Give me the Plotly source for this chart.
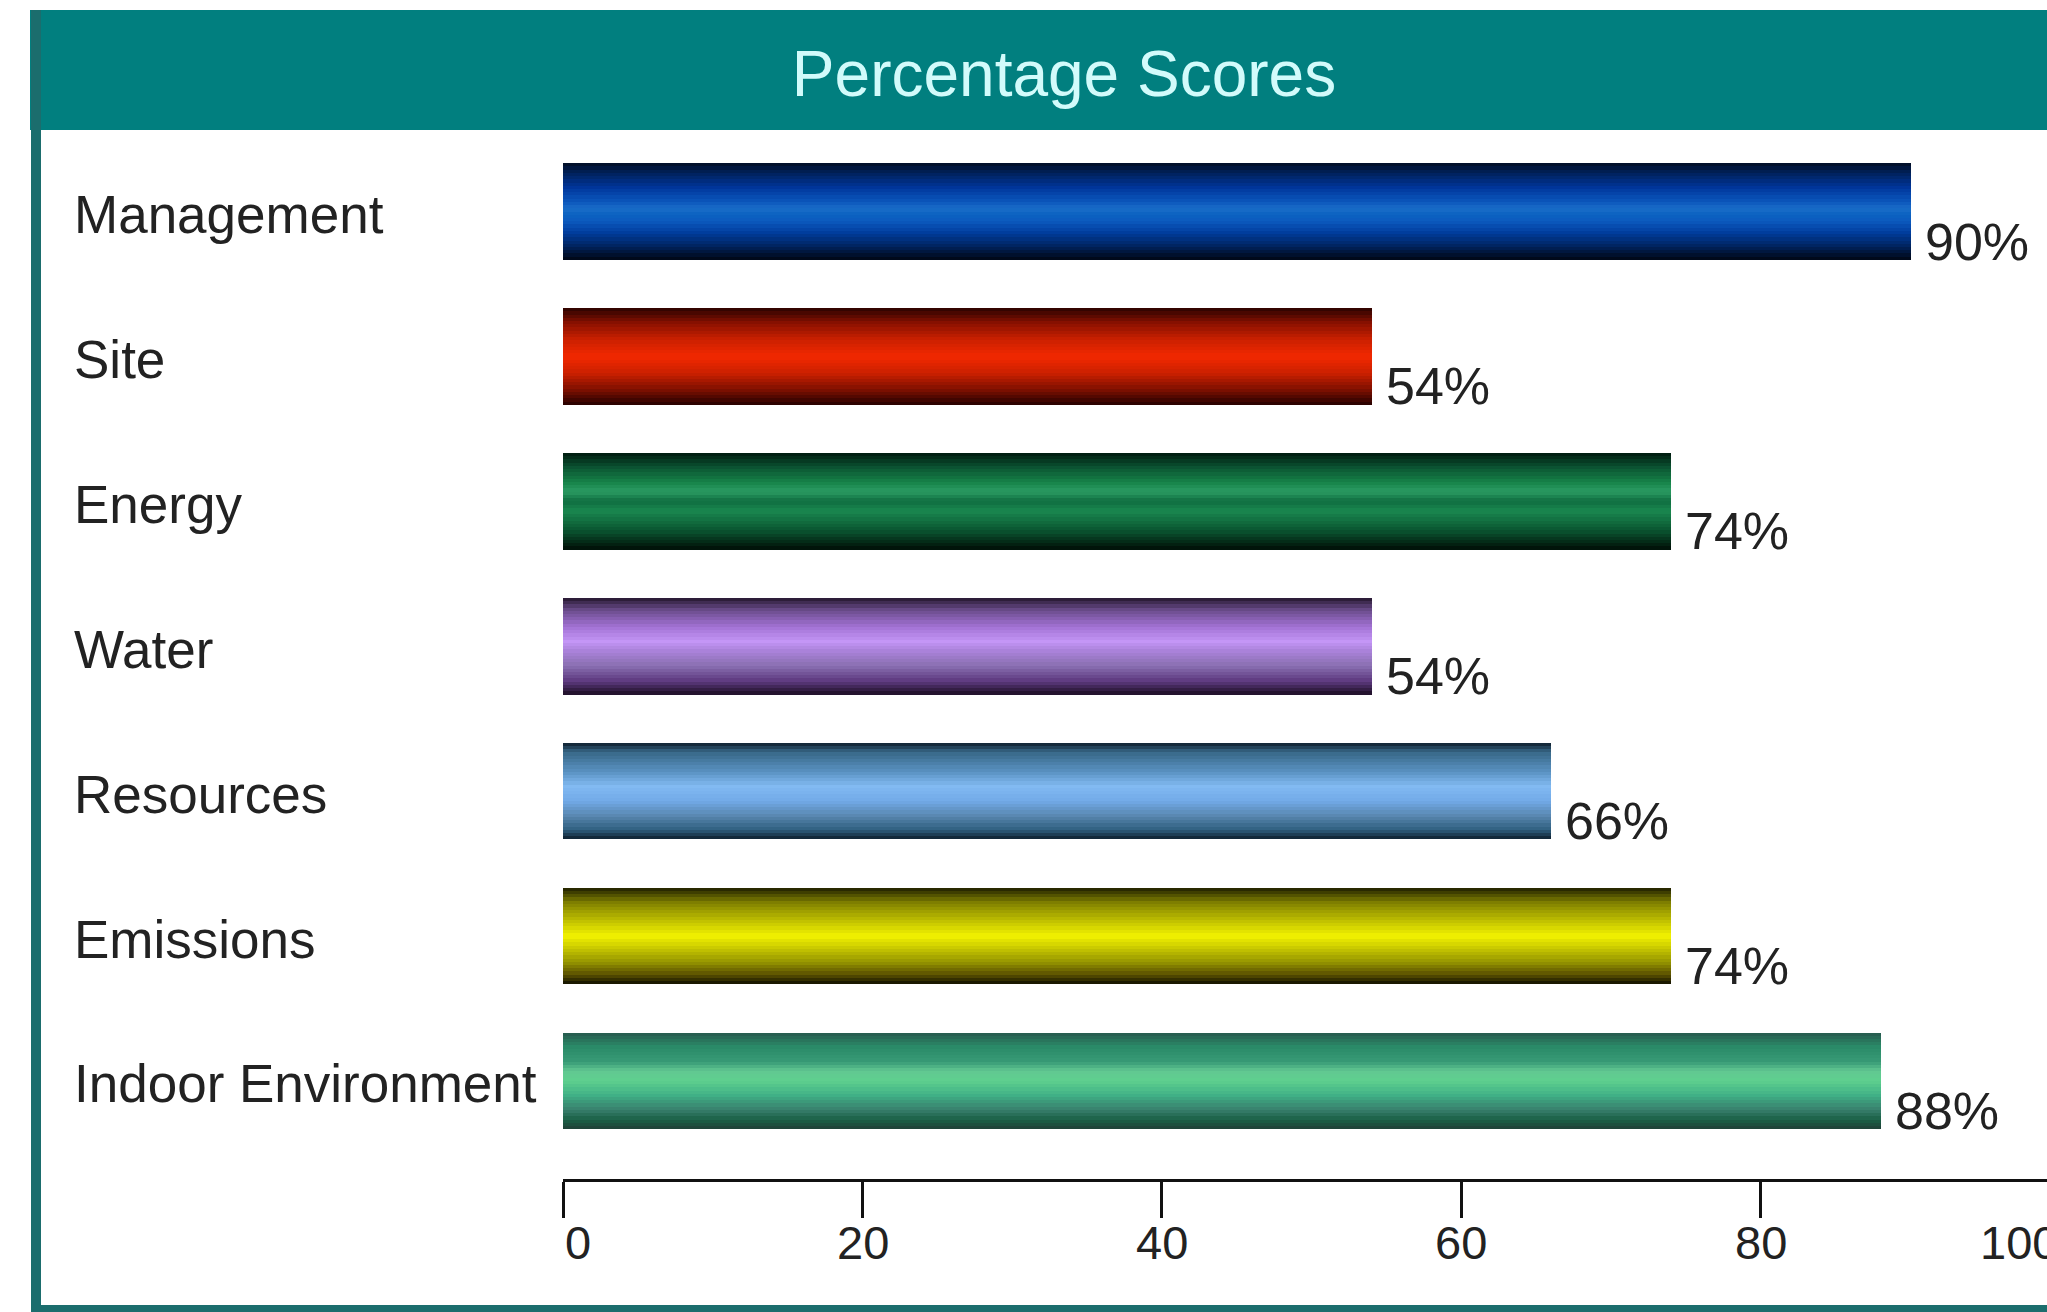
import plotly.graph_objects as go

# ---- data ----
categories = ["Management", "Site", "Energy", "Water", "Resources", "Emissions", "Indoor Environment"]
scores = [90, 54, 74, 54, 66, 74, 88]
tick_values = [0, 20, 40, 60, 80, 100]
title_text = "Percentage Scores"

# ---- styling (colour profiles top -> bottom for each bar) ----
profiles = {
    "Management": [(0.0, "#020c22"), (0.1, "#00215a"), (0.25, "#00359a"), (0.4, "#0b57bc"),
                   (0.47, "#1a6cc8"), (0.53, "#0a62c0"), (0.6, "#0c5abf"), (0.72, "#003c9c"),
                   (0.86, "#00235e"), (1.0, "#000612")],
    "Site": [(0.0, "#2a0200"), (0.15, "#861000"), (0.33, "#cc2000"), (0.5, "#f22800"),
             (0.67, "#cc2000"), (0.84, "#801000"), (1.0, "#240000")],
    "Energy": [(0.0, "#001a0e"), (0.14, "#0a5030"), (0.3, "#168248"), (0.4, "#2a9a62"),
               (0.5, "#0f6e40"), (0.6, "#1a8850"), (0.8, "#0a5530"), (1.0, "#000e06")],
    "Water": [(0.0, "#24162c"), (0.12, "#684a88"), (0.3, "#a272d4"), (0.45, "#c496f6"),
              (0.55, "#aa82da"), (0.7, "#8a70b2"), (0.86, "#5e3a80"), (1.0, "#1c0e24")],
    "Resources": [(0.0, "#0e1e2c"), (0.1, "#386888"), (0.3, "#5a92c2"), (0.45, "#82baf2"),
                  (0.6, "#72aae8"), (0.76, "#5886ae"), (0.9, "#2e5e7e"), (1.0, "#0e1e2c")],
    "Emissions": [(0.0, "#1e1e00"), (0.15, "#7e7e00"), (0.35, "#c2c200"), (0.5, "#f4f400"),
                  (0.62, "#caca00"), (0.78, "#909000"), (0.9, "#5a5000"), (1.0, "#0e0e00")],
    "Indoor Environment": [(0.0, "#285a4e"), (0.15, "#2a8a68"), (0.3, "#389a76"), (0.4, "#62c892"),
                           (0.5, "#5ed08e"), (0.65, "#40b086"), (0.8, "#387e6c"), (0.9, "#1a6046"), (1.0, "#203e36")],
}


def hex_to_rgb(h):
    h = h.lstrip("#")
    return tuple(int(h[i:i + 2], 16) for i in (0, 2, 4))


def sample(profile, t):
    for (p0, c0), (p1, c1) in zip(profile[:-1], profile[1:]):
        if p0 <= t <= p1:
            f = 0 if p1 == p0 else (t - p0) / (p1 - p0)
            a, b = hex_to_rgb(c0), hex_to_rgb(c1)
            return "rgb(%d,%d,%d)" % tuple(round(a[i] + (b[i] - a[i]) * f) for i in range(3))
    return profile[-1][1]


W, H = 2047, 1312
bar_width = 0.667
n_stripes = 30
text_color = "#222222"
font_family = "Liberation Sans, Arial, sans-serif"

fig = go.Figure()
for k in range(n_stripes):
    t = (k + 0.5) / n_stripes
    fig.add_trace(go.Bar(
        x=scores,
        y=categories,
        orientation="h",
        width=bar_width / n_stripes * 1.02,
        offset=-bar_width / 2 + k * bar_width / n_stripes,
        marker=dict(color=[sample(profiles[c], t) for c in categories], line=dict(width=0)),
        showlegend=False,
        hoverinfo="skip",
    ))

# pixel geometry -> paper fractions
x_left_px = 563
x_max = 99.1
y_top_px, y_bot_px = 130, 1179
tick_label_top_px = 1214

annotations = []
for c, v in zip(categories, scores):
    annotations.append(dict(
        x=72 / W, xref="paper", y=c, yref="y", text=c, showarrow=False,
        xanchor="left", yanchor="middle", yshift=-3,
        font=dict(size=53, color=text_color, family=font_family)))
    annotations.append(dict(
        x=v, xref="x", y=c, yref="y", text=f"{v}%", showarrow=False,
        xanchor="left", yanchor="middle", xshift=12, yshift=-30,
        font=dict(size=52, color=text_color, family=font_family)))

# x tick labels (edge labels shifted to stay inside the axis extent, as in the source)
for tv in tick_values:
    if tv == 0:
        a = dict(x=tv, xref="x", xanchor="left")
    elif tv > x_max:
        a = dict(x=tv / x_max, xref="x domain", xanchor="right")
    else:
        a = dict(x=tv, xref="x", xanchor="center")
    a.update(y=1 - tick_label_top_px / H, yref="paper", yanchor="top", text=str(tv), showarrow=False,
             font=dict(size=47, color=text_color, family=font_family))
    annotations.append(a)

teal = "#017f7f"
border = "#1b6d6d"
shapes = [
    dict(type="rect", xref="paper", yref="paper", x0=30 / W, x1=1.01, y0=1 - y_top_px / H, y1=1 - 10 / H,
         fillcolor=teal, line=dict(width=0), layer="below"),
    dict(type="rect", xref="paper", yref="paper", x0=31 / W, x1=41 / W, y0=0, y1=1 - 10 / H,
         fillcolor=border, line=dict(width=0), layer="above"),
    dict(type="rect", xref="paper", yref="paper", x0=31 / W, x1=1.01, y0=0, y1=1 - 1305 / H,
         fillcolor=border, line=dict(width=0), layer="above"),
]

fig.update_layout(
    width=W, height=H,
    margin=dict(l=0, r=0, t=0, b=0),
    paper_bgcolor="white", plot_bgcolor="white",
    barmode="overlay",
    bargap=0,
    title=dict(text=title_text, x=1064 / W, xanchor="center", y=1 - 74 / H, yanchor="middle",
               yref="container", font=dict(size=64, color="#d2fbfb", family=font_family)),
    xaxis=dict(
        domain=[x_left_px / W, 1.0], range=[0, x_max],
        tickvals=[v for v in tick_values if v <= x_max], showticklabels=False,
        showline=True, linecolor="#111111", linewidth=3,
        ticks="outside", ticklen=36, tickwidth=3, tickcolor="#111111",
        showgrid=False, zeroline=False,
        fixedrange=True,
    ),
    yaxis=dict(
        domain=[1 - y_bot_px / H, 1 - y_top_px / H],
        type="category", categoryorder="array", categoryarray=categories,
        range=[6.677, -0.5625],
        showticklabels=False, showgrid=False, zeroline=False, showline=False, ticks="",
        fixedrange=True,
    ),
    annotations=annotations,
    shapes=shapes,
)

fig.write_html("out.html")
